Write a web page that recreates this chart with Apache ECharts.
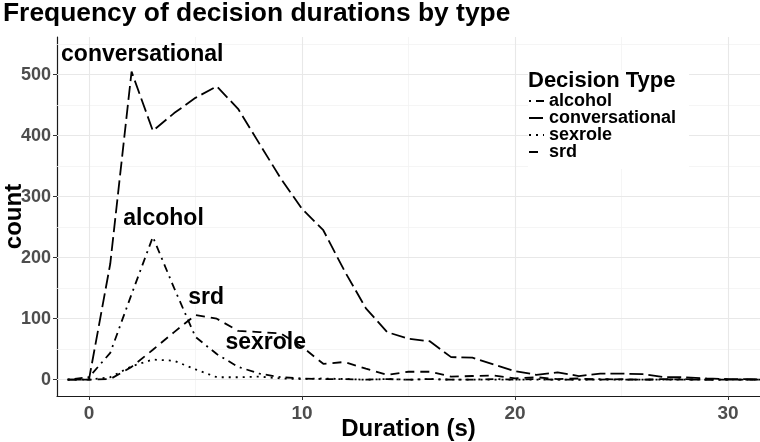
<!DOCTYPE html>
<html><head><meta charset="utf-8">
<script src="https://cdn.jsdelivr.net/npm/echarts@6/dist/echarts.min.js"></script>
<style>html,body{margin:0;padding:0;background:#fff}#c{width:760px;height:442px}</style>
</head><body><div id="c"></div>
<script>
// ---- data (frequency polygon, bin width 1 s) ----
const durations      = [-1,0,1,2,3,4,5,6,7,8,9,10,11,12,13,14,15,16,17,18,19,20,21,22,23,24,25,26,27,28,29,30,31,32];
const alcohol        = [0,4,44,140,234,150,70,42,21,10,4,2,1,1,0,1,0,1,0,0,1,0,1,0,0,1,0,0,0,1,0,0,0,0];
const conversational = [0,0,190,505,408,437,462,481,444,387,330,280,245,178,117,78,67,63,37,36,25,14,8,12,6,10,10,9,4,4,2,1,1,0];
const sexrole        = [0,0,4,22,33,31,17,4,4,5,2,1,2,1,0,1,0,1,0,0,0,0,0,0,0,0,0,0,0,0,0,0,0,0];
const srd            = [0,0,1,21,49,78,106,100,80,78,76,54,26,29,18,8,13,13,5,6,7,2,4,1,2,0,1,0,1,0,0,0,0,0];

const typeNames = ['alcohol','conversational','sexrole','srd'];
const typeValues = {alcohol, conversational, sexrole, srd};

const xTicks = [0,10,20,30];
const xMinor = [5,15,25];
const yTicks = [0,100,200,300,400,500];
const yMinor = [50,150,250,350,450,550];

const annotNames = ['conversational','alcohol','srd','sexrole'];
const annotX = [2.5, 3.5, 5.5, 8.3];
const annotY = [533, 264, 134, 60];

// ---- styling ----
const SANS = '"Liberation Sans",Arial,Helvetica,sans-serif';
const dashes = {alcohol:[2,5,8,5], conversational:[14,5], sexrole:[2,5], srd:[9,6]};

function pairs(vals){ return durations.map((d,i)=>[d, vals[i]]); }

const gridLines = []
  .concat(xMinor.map(v=>({xAxis:v, lineStyle:{color:'#f2f2f2', width:0.8, type:'solid'}})))
  .concat(yMinor.map(v=>({yAxis:v, lineStyle:{color:'#f2f2f2', width:0.8, type:'solid'}})))
  .concat(xTicks.map(v=>({xAxis:v, lineStyle:{color:'#e8e8e8', width:1.1, type:'solid'}})))
  .concat(yTicks.map(v=>({yAxis:v, lineStyle:{color:'#e8e8e8', width:1.1, type:'solid'}})));

const series = [{
  type:'line', name:'_grid', data:[[0,0]], symbol:'none', silent:true, z:1,
  lineStyle:{width:0, opacity:0},
  markLine:{silent:true, z:1, symbol:['none','none'], label:{show:false}, animation:false, data:gridLines}
}];
typeNames.forEach(n=>{
  series.push({
    type:'line', name:n, data:pairs(typeValues[n]), symbol:'none', showSymbol:false, z:2, clip:true,
    lineStyle:{color:'#000', width:1.8, type:dashes[n], cap:'butt'},
    itemStyle:{color:'#000'}
  });
});
series.push({
  type:'scatter', name:'_labels', silent:true, z:3, symbolSize:0,
  itemStyle:{opacity:1, color:'#000'},
  data: annotNames.map((n,i)=>({name:n, value:[annotX[i], annotY[i]]})),
  label:{show:true, position:'inside', formatter:'{b}', fontFamily:SANS, fontWeight:'bold', fontSize:23, color:'#000', opacity:1}
});

const chart = echarts.init(document.getElementById('c'), null, {renderer:'canvas'});
chart.setOption({
  animation:false,
  backgroundColor:'#fff',
  title:[
    {text:'Frequency of decision durations by type', left:3, top:1, padding:0,
     textStyle:{fontFamily:SANS, fontWeight:'bold', fontSize:26.4, color:'#000'}},
    {text:'Decision Type', left:528, top:70, padding:0, z:7,
     textStyle:{fontFamily:SANS, fontWeight:'bold', fontSize:22, color:'#000'}}
  ],
  legend:{
    data:typeNames, orient:'vertical', left:528, top:70, padding:[22,13,8,0], z:6,
    itemGap:-1, itemWidth:15, itemHeight:14, backgroundColor:'#fff', selectedMode:false,
    itemStyle:{opacity:0},
    textStyle:{fontFamily:SANS, fontWeight:'bold', fontSize:18, color:'#000', lineHeight:16}
  },
  grid:{left:57, right:0, top:37, bottom:46, containLabel:false, outerBoundsMode:'none'},
  xAxis:{
    type:'value', min:-1.5, max:31.5,
    axisLine:{show:true, onZero:false, lineStyle:{color:'#1a1a1a', width:1.2}},
    axisTick:{show:true, customValues:xTicks, length:4, lineStyle:{color:'#333', width:1}},
    axisLabel:{customValues:xTicks, margin:8, fontFamily:SANS, fontWeight:'bold', fontSize:19, color:'#4d4d4d'},
    splitLine:{show:false}, minorSplitLine:{show:false},
    name:'Duration (s)', nameLocation:'middle', nameGap:21, nameMoveOverlap:false,
    nameTextStyle:{fontFamily:SANS, fontWeight:'bold', fontSize:24, color:'#000'}
  },
  yAxis:{
    type:'value', min:-26.75, max:561.75,
    axisLine:{show:true, onZero:false, lineStyle:{color:'#1a1a1a', width:1.2}},
    axisTick:{show:true, customValues:yTicks, length:4, lineStyle:{color:'#333', width:1}},
    axisLabel:{customValues:yTicks, margin:6, fontFamily:SANS, fontWeight:'bold', fontSize:18, color:'#4d4d4d'},
    splitLine:{show:false}, minorSplitLine:{show:false},
    name:'count', nameLocation:'middle', nameGap:31, nameMoveOverlap:false,
    nameTextStyle:{fontFamily:SANS, fontWeight:'bold', fontSize:24, color:'#000'}
  },
  series:series
});
</script></body></html>
